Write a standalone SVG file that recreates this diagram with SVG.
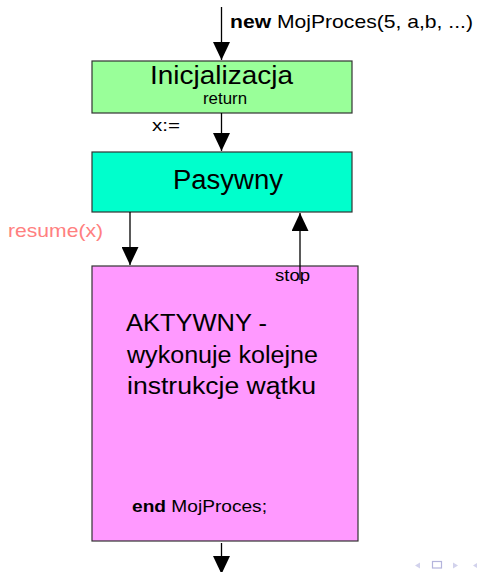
<svg xmlns="http://www.w3.org/2000/svg" width="477" height="572" viewBox="0 0 477 572">
  <style>
    text { font-family: "Liberation Sans", Arial, sans-serif; fill: #000; }
    .box { stroke: #333; stroke-width: 1.2; }
    .edge { stroke: #000; stroke-width: 1.3; fill: none; marker-end: url(#head); }
    .b { font-weight: bold; }
    .nav { fill: #d2d2ec; }
  </style>
  <defs>
    <marker id="head" viewBox="0 0 18 17" refX="18" refY="8.5" markerWidth="18" markerHeight="17" markerUnits="userSpaceOnUse" orient="auto">
      <path d="M0,0 L18,8.5 L0,17 Z" fill="#000"/>
    </marker>
  </defs>

  <rect width="477" height="572" fill="#fff"/>

  <!-- state boxes -->
  <g id="init">
    <rect class="box" x="92" y="61" width="260" height="52" fill="#99ff99"/>
    <text x="150" y="84" font-size="26" textLength="143" lengthAdjust="spacingAndGlyphs">Inicjalizacja</text>
    <text x="203" y="104" font-size="16" textLength="44" lengthAdjust="spacingAndGlyphs">return</text>
  </g>

  <g id="passive">
    <rect class="box" x="92" y="152" width="260" height="60" fill="#00ffcc"/>
    <text x="173" y="189" font-size="27" textLength="110" lengthAdjust="spacingAndGlyphs">Pasywny</text>
  </g>

  <g id="active">
    <rect class="box" x="92" y="266" width="266" height="275" fill="#ff99ff"/>
    <text x="126" y="331" font-size="23" textLength="141" lengthAdjust="spacingAndGlyphs">AKTYWNY -</text>
    <text x="127" y="363" font-size="23" textLength="191" lengthAdjust="spacingAndGlyphs">wykonuje kolejne</text>
    <text x="127" y="394" font-size="23" textLength="189" lengthAdjust="spacingAndGlyphs">instrukcje wątku</text>
    <text x="132" y="512" font-size="17" textLength="135" lengthAdjust="spacingAndGlyphs"><tspan class="b">end</tspan> MojProces;</text>
  </g>

  <!-- connectors -->
  <g id="connectors">
    <line class="edge" x1="221.5" y1="7" x2="221.5" y2="60"/>
    <line class="edge" x1="221.5" y1="113" x2="221.5" y2="151"/>
    <line class="edge" x1="130" y1="212" x2="130" y2="265"/>
    <line class="edge" x1="300" y1="280" x2="300" y2="213"/>
    <line class="edge" x1="221.5" y1="543" x2="221.5" y2="574"/>
  </g>

  <!-- connector labels -->
  <g id="labels">
    <text x="230" y="28" font-size="19" textLength="243" lengthAdjust="spacingAndGlyphs"><tspan class="b">new</tspan> MojProces(5, a,b, ...)</text>
    <text x="152" y="131" font-size="17" textLength="28" lengthAdjust="spacingAndGlyphs">x:=</text>
    <text x="8" y="237" font-size="19" textLength="95" lengthAdjust="spacingAndGlyphs" style="fill:#ff8080">resume(x)</text>
    <text x="275" y="281" font-size="16" textLength="35" lengthAdjust="spacingAndGlyphs">stop</text>
  </g>

  <!-- navigation symbols -->
  <g id="nav">
    <path class="nav" d="M415,565.5 L420,562.5 L420,568.5 Z"/>
    <rect x="432.5" y="561.5" width="9" height="6.5" fill="none" stroke="#b4b4dc" stroke-width="1.2"/>
    <path class="nav" d="M458,565.5 L453,562.5 L453,568.5 Z"/>
    <path class="nav" d="M473,565.5 L478,562.5 L478,568.5 Z"/>
  </g>
</svg>
